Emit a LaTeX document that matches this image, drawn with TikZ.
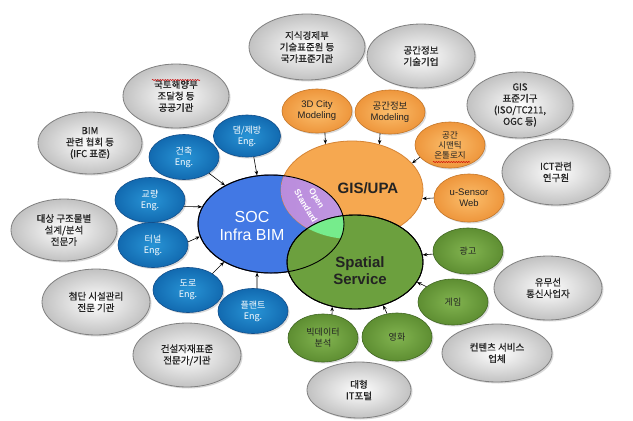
\documentclass[tikz,border=0pt]{standalone}
\usepackage{fontspec}
\setmainfont{Liberation Sans}
\newfontfamily\kr{Noto Sans CJK KR}
\newfontfamily\krb{Noto Sans CJK KR}[FakeBold=0.8]
\usetikzlibrary{shapes.geometric,shadows,arrows.meta,decorations.pathmorphing}
\definecolor{socblue}{RGB}{66,120,228}
\definecolor{socedge}{RGB}{20,30,80}
\definecolor{gisor}{RGB}{246,168,80}
\definecolor{gisedge}{RGB}{214,132,52}
\definecolor{spgreen}{RGB}{108,160,62}
\definecolor{lensc}{RGB}{200,165,232}
\definecolor{lensd}{RGB}{186,140,220}
\definecolor{tric}{RGB}{118,236,140}
\definecolor{bin}{RGB}{40,148,214}
\definecolor{bout}{RGB}{18,106,176}
\definecolor{bedge}{RGB}{18,78,138}
\definecolor{oin}{RGB}{251,190,108}
\definecolor{oout}{RGB}{238,150,60}
\definecolor{oedge}{RGB}{196,118,40}
\definecolor{gin}{RGB}{130,180,80}
\definecolor{gout}{RGB}{94,142,50}
\definecolor{gedge}{RGB}{66,104,36}
\definecolor{txt}{RGB}{35,35,35}
\begin{document}
\begin{tikzpicture}[x=1pt,y=-1pt,
  base/.style={ellipse, inner sep=0pt, align=center},
  shad/.style={drop shadow={shadow xshift=1.5pt,shadow yshift=-1.5pt,opacity=0.3}},
  graynode/.style={base, shad, minimum width=106pt, minimum height=64pt, draw=black!50, line width=0.8pt,
     inner color=white, outer color=black!24, text=txt, font=\krb\fontsize{9.5}{11.5}\selectfont},
  bluenode/.style={base, shad, minimum width=70pt, minimum height=45pt, draw=bedge, line width=0.6pt,
     inner color=bin, outer color=bout, text=white, font=\kr\fontsize{9}{11}\selectfont},
  ornode/.style={base, shad, minimum width=70pt, minimum height=44pt, draw=oedge, line width=0.6pt,
     inner color=oin, outer color=oout, text=txt, font=\fontsize{9.5}{11}\selectfont},
  grnode/.style={base, shad, minimum width=70pt, minimum height=46pt, draw=gedge, line width=0.6pt,
     inner color=gin, outer color=gout, text=txt, font=\kr\fontsize{9}{11}\selectfont},
  bigtxt/.style={align=center, inner sep=0pt},
  lenstxt/.style={inner sep=0pt, text=white, rotate=-59, font=\bfseries\fontsize{8.5}{10}\selectfont},
  arr/.style={-{Stealth[length=4.5pt,width=3.5pt]}, line width=0.6pt, black},
  squig/.style={red!80!black, line width=0.5pt, decorate, decoration={snake, amplitude=0.6pt, segment length=2.5pt}}
]
\useasboundingbox (0,0) rectangle (633,421);
\fill[white] (0,0) rectangle (633,421);

% big ellipses
\node[base, minimum width=146pt, minimum height=98pt, fill=socblue, draw=socedge, line width=1pt] (soc) at (271,224) {};
\node[base, minimum width=142pt, minimum height=98pt, fill=gisor, draw=gisedge, line width=0.8pt] (gis) at (352,190) {};
\begin{scope}
  \clip (271,224) ellipse [x radius=73pt, y radius=49pt];
  \shade[left color=lensd, right color=lensc] (352,190) ellipse [x radius=71pt, y radius=49pt];
\end{scope}
\node[base, minimum width=136pt, minimum height=94pt, fill=spgreen, draw=black, line width=0.9pt] (sp) at (355,262) {};
\begin{scope}
  \clip (271,224) ellipse [x radius=73pt, y radius=49pt];
  \clip (352,190) ellipse [x radius=71pt, y radius=49pt];
  \fill[tric] (355,262) ellipse [x radius=68pt, y radius=47pt];
\end{scope}
\draw[black, line width=0.9pt] (271,224) ellipse [x radius=73pt, y radius=49pt];
\draw[black, line width=0.9pt] (355,262) ellipse [x radius=68pt, y radius=47pt];

\node[bigtxt, text=white, font=\fontsize{16}{18}\selectfont] (soct) at (252,226) {SOC\\Infra BIM};
\node[bigtxt, text=txt, font=\bfseries\fontsize{15}{17}\selectfont] (gist) at (368,188) {GIS/UPA};
\node[bigtxt, text=txt, font=\bfseries\fontsize{15}{17}\selectfont] (spt) at (360,271) {Spatial\\Service};
\node[lenstxt] (lens1) at (316,199) {Open};
\node[lenstxt] (lens2) at (306,206) {Standard};

% gray nodes
\node[graynode, minimum width=116pt, minimum height=66pt] (g1) at (307,47) {지식경제부\\기술표준원 등\\국가표준기관};
\node[graynode, minimum width=108pt] (g2) at (421,56) {공간정보\\기술기업};
\node[graynode, minimum height=66pt] (g3) at (520,105) {GIS\\표준기구\\(ISO/TC211,\\OGC 등)};
\node[graynode, minimum width=108pt, minimum height=66pt] (g4) at (556,172) {ICT관련\\연구원};
\node[graynode, minimum width=108pt] (g5) at (548,288) {유무선\\통신사업자};
\node[graynode, minimum width=110pt, minimum height=58pt] (g6) at (497,353) {컨텐츠 서비스\\업체};
\node[graynode, minimum width=104pt, minimum height=56pt] (g7) at (359,390) {대형\\IT포털};
\node[graynode, minimum width=108pt] (g8) at (187,355) {건설자재표준\\전문가/기관};
\node[graynode, minimum width=108pt, minimum height=66pt] (g9) at (96,302) {첨단 시설관리\\전문 기관};
\node[graynode, minimum height=62pt] (g10) at (64,230) {대상 구조물별\\설계/분석\\전문가};
\node[graynode, minimum width=104pt, minimum height=62pt] (g11) at (90,143) {BIM\\관련 협회 등\\(IFC 표준)};
\node[graynode] (g12) at (176,96) {국토해양부\\조달청 등\\공공기관};

% blue nodes
\node[bluenode, minimum width=67pt, minimum height=42pt] (b1) at (247,136) {댐/제방\\Eng.};
\node[bluenode] (b2) at (184,157) {건축\\Eng.};
\node[bluenode] (b3) at (150,200) {교량\\Eng.};
\node[bluenode] (b4) at (153,245) {터널\\Eng.};
\node[bluenode] (b5) at (188,290) {도로\\Eng.};
\node[bluenode] (b6) at (253,311) {플랜트\\Eng.};

% orange nodes
\node[ornode] (o1) at (317,111) {3D City\\Modeling};
\node[ornode] (o2) at (390,112) {{\kr 공간정보}\\Modeling};
\node[ornode, minimum height=46pt, font=\kr\fontsize{8.5}{10}\selectfont] (o3) at (450,145) {공간\\시맨틱\\온톨로지};
\node[ornode, minimum height=48pt] (o4) at (469,198) {u-Sensor\\Web};

% green nodes
\node[grnode] (gr1) at (468,251) {광고};
\node[grnode] (gr2) at (453,302) {게임};
\node[grnode, minimum height=48pt] (gr3) at (397,337) {영화};
\node[grnode, minimum height=48pt] (gr4) at (323,338) {빅데이터\\분석};

% squiggles
\draw[squig] (152,80) -- (200,80);
\draw[squig] (433,162) -- (470,162);

% arrows
\draw[arr] (b1.-72) -- (soc.106);
\draw[arr] (b2.-33) -- (soc.140);
\draw[arr] (b3.-11) -- (soc.166);
\draw[arr] (b4.5) -- (soc.190);
\draw[arr] (b5.34) -- (soc.219);
\draw[arr] (b6.80) -- (soc.254);
\draw[arr] (o1.-70) -- (gis.120);
\draw[arr] (o2.-115) -- (gis.59);
\draw[arr] (o3.-158) -- (gis.24);
\draw[arr] (o4.180) -- (gis.-7);
\draw[arr] (gr1.185) -- (sp.6);
\draw[arr] (gr2.150) -- (sp.-18);
\draw[arr] (gr3.113) -- (sp.-57);
\draw[arr] (gr4.69) -- (sp.-117);
\end{tikzpicture}
\end{document}
